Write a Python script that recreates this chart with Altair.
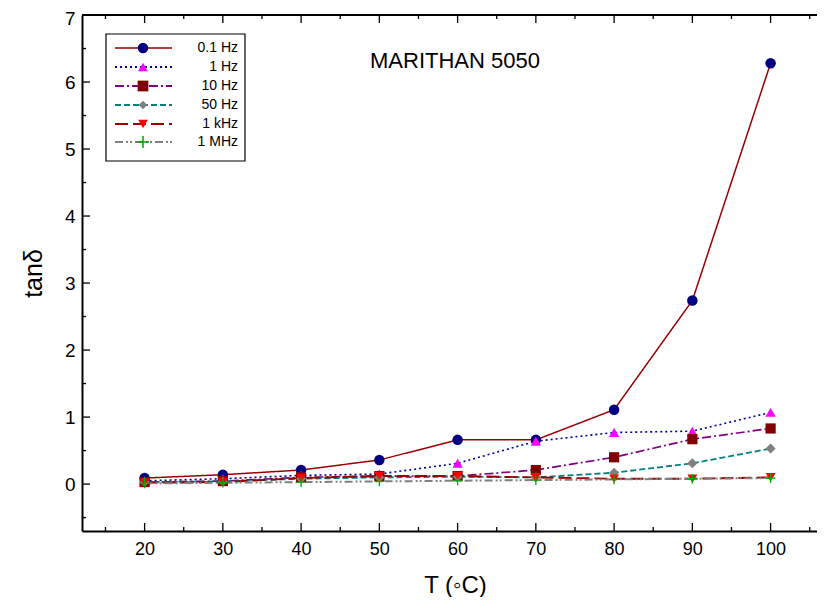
import altair as alt
import pandas as pd

temps = [20, 30, 40, 50, 60, 70, 80, 90, 100]
series = ["0.1 Hz", "1 Hz", "10 Hz", "50 Hz", "1 kHz", "1 MHz"]
v_01hz = [0.09, 0.14, 0.21, 0.36, 0.66, 0.66, 1.11, 2.74, 6.28]
v_1hz = [0.05, 0.08, 0.13, 0.15, 0.31, 0.64, 0.77, 0.79, 1.07]
v_10hz = [0.03, 0.045, 0.10, 0.12, 0.12, 0.21, 0.40, 0.67, 0.83]
v_50hz = [0.03, 0.04, 0.08, 0.10, 0.11, 0.10, 0.17, 0.31, 0.53]
v_1khz = [0.02, 0.03, 0.09, 0.12, 0.12, 0.10, 0.08, 0.08, 0.10]
v_1mhz = [0.01, 0.02, 0.03, 0.04, 0.05, 0.06, 0.07, 0.08, 0.09]
values = [v_01hz, v_1hz, v_10hz, v_50hz, v_1khz, v_1mhz]

x_major = [20, 30, 40, 50, 60, 70, 80, 90, 100]
x_minor = [15, 25, 35, 45, 55, 65, 75, 85, 95, 105]
y_major = [0, 1, 2, 3, 4, 5, 6, 7]
y_minor = [-0.5, 0.5, 1.5, 2.5, 3.5, 4.5, 5.5, 6.5]

line_colors = ["#990000", "#000099", "#800080", "#008080", "#990000", "#808080"]
marker_colors = ["#000080", "#FF00FF", "#800000", "#808080", "#FF0000", "#00AA00"]
dashes = [[1, 0], [2, 3], [9, 3, 2, 3], [6, 3], [13, 5], [8, 3, 2, 2, 2, 3]]
widths = [1.5, 2, 2, 2, 2, 2]
plus_path = "M-1,-0.13H1V0.13H-1Z M-0.13,-1H0.13V1H-0.13Z"
shapes = ["circle", "triangle-up", "square", "diamond", "triangle-down", plus_path]
sizes = [110, 95, 115, 75, 95, 140]

rows = []
for s, vals in zip(series, values):
    for t, v in zip(temps, vals):
        rows.append({"T": t, "tan": v, "series": s})
df = pd.DataFrame(rows)

W, H = 735, 516
FONT = "Liberation Sans"
xs = alt.Scale(domain=[12, 12 + W / 7.825], nice=False, zero=False)
ys = alt.Scale(domain=[-0.7, 7], nice=False, zero=False)

base = alt.Chart(df)
lines = base.mark_line().encode(
    x=alt.X("T:Q", scale=xs,
            axis=alt.Axis(values=x_major, format="d", title="T (◦C)", ticks=False, tickSize=0,
                          labelFontSize=18, labelFont=FONT, labelColor="black",
                          labelPadding=9, titleFont=FONT, titleFontSize=24,
                          titleFontWeight="normal", titleColor="black", titlePadding=15,
                          titleX=373,
                          domainWidth=2, domainColor="black", grid=False)),
    y=alt.Y("tan:Q", scale=ys,
            axis=alt.Axis(values=y_major, format="d", title="tanδ", ticks=False, tickSize=0,
                          labelFontSize=19, labelFont=FONT, labelColor="black",
                          labelPadding=7, titleFont=FONT, titleFontSize=25,
                          labelOffset={"condition": {"test": "datum.value == 7", "value": 3}, "value": 0},
                          titleFontWeight="normal", titleColor="black", titlePadding=18,
                          domainWidth=2, domainColor="black", grid=False)),
    stroke=alt.Stroke("series:N", scale=alt.Scale(domain=series, range=line_colors), legend=None),
    strokeDash=alt.StrokeDash("series:N", scale=alt.Scale(domain=series, range=dashes), legend=None),
    strokeWidth=alt.StrokeWidth("series:N", scale=alt.Scale(domain=series, range=widths), legend=None),
    detail="series:N",
)
points = base.mark_point(filled=True, opacity=1).encode(
    x=alt.X("T:Q", scale=xs),
    y=alt.Y("tan:Q", scale=ys),
    fill=alt.Fill("series:N", scale=alt.Scale(domain=series, range=marker_colors), legend=None),
    shape=alt.Shape("series:N", scale=alt.Scale(domain=series, range=shapes), legend=None),
    size=alt.Size("series:N", scale=alt.Scale(domain=series, range=sizes), legend=None),
)

def xticks(vals, length, top):
    d = pd.DataFrame({"v": vals})
    if top:
        yv, y2v = alt.value(0), alt.value(length)
    else:
        yv, y2v = alt.value(H), alt.value(H - length)
    return alt.Chart(d).mark_rule(color="black", strokeWidth=1.3).encode(
        x=alt.X("v:Q", scale=xs), y=yv, y2=y2v)

def yticks(vals, length):
    d = pd.DataFrame({"v": vals})
    return alt.Chart(d).mark_rule(color="black", strokeWidth=1.3).encode(
        y=alt.Y("v:Q", scale=ys), x=alt.value(0), x2=alt.value(length))

top_line = alt.Chart(pd.DataFrame({"a": [0]})).mark_rule(color="black", strokeWidth=2).encode(
    x=alt.value(0), x2=alt.value(W), y=alt.value(0))

ticks = [xticks(x_major, 8, False), xticks(x_minor, 4, False),
         xticks(x_major, 8, True), xticks(x_minor, 4, True),
         yticks(y_major, 8), yticks(y_minor, 4)]

one = pd.DataFrame({"a": [0]})
title = alt.Chart(one).mark_text(text="MARITHAN 5050", font=FONT, fontSize=22,
                                 color="black", align="center", baseline="middle").encode(
    x=alt.value(373), y=alt.value(46))

legend_layers = [
    alt.Chart(one).mark_rect(fill="white", stroke="black", strokeWidth=1.2).encode(
        x=alt.value(24), x2=alt.value(163), y=alt.value(19), y2=alt.value(146))
]
row_y = [33, 52, 71, 90, 109, 127]
for i, s in enumerate(series):
    legend_layers.append(
        alt.Chart(one).mark_rule(color=line_colors[i], strokeDash=dashes[i],
                                 strokeWidth=widths[i]).encode(
            x=alt.value(33), x2=alt.value(90), y=alt.value(row_y[i])))
    legend_layers.append(
        alt.Chart(one).mark_point(filled=True, opacity=1, fill=marker_colors[i],
                                  shape=shapes[i], size=sizes[i]).encode(
            x=alt.value(61), y=alt.value(row_y[i])))
    legend_layers.append(
        alt.Chart(one).mark_text(text=s, font=FONT, fontSize=14, color="black",
                                 align="right", baseline="middle").encode(
            x=alt.value(156), y=alt.value(row_y[i])))

chart = alt.layer(lines, points, top_line, *ticks, title, *legend_layers).properties(
    width=W, height=H,
    autosize=alt.AutoSizeParams(type="none"),
    padding={"left": 74, "top": 7, "right": 0, "bottom": 66}
).configure_view(stroke=None)

chart.save("out.html", embed_options={"renderer": "svg", "actions": False})
